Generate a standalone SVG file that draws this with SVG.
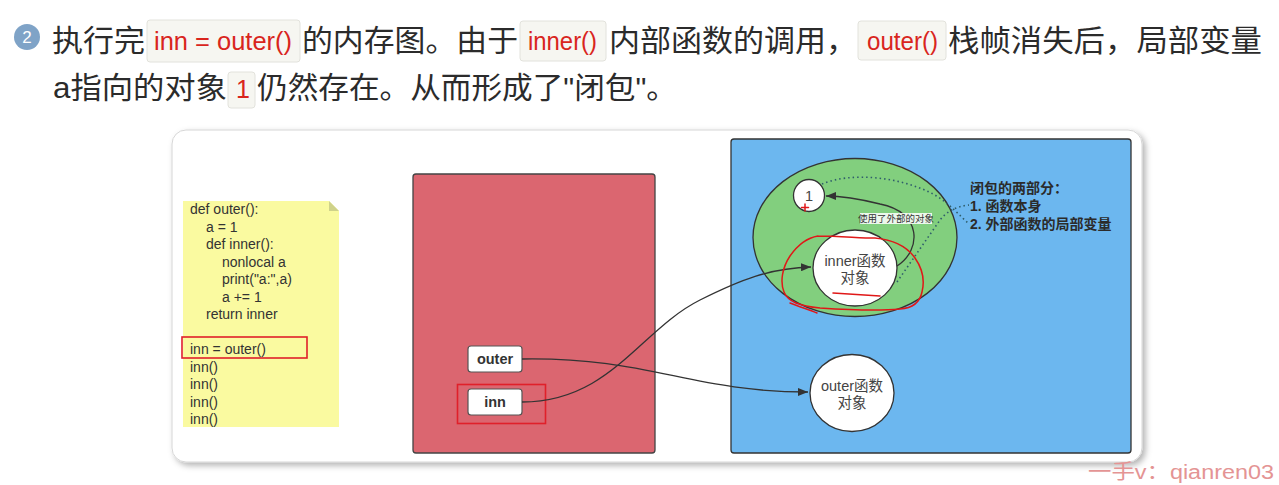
<svg xmlns="http://www.w3.org/2000/svg" width="1279" height="485" viewBox="0 0 1279 485">
<defs>
<style>
.h{font-family:"Liberation Sans","Noto Sans CJK SC",sans-serif;font-size:30px;fill:#2b2b2b}
.code{font-family:"Liberation Sans",sans-serif;font-size:25px;fill:#d9251d}
.cbox{fill:#f6f6f1;stroke:#e2e2dc;stroke-width:1}
.note{font-family:"Liberation Sans",sans-serif;font-size:14px;fill:#333}
.stk{fill:#fff;stroke:#555;stroke-width:1.2}
.stkt{font-family:"Liberation Sans",sans-serif;font-size:14.5px;font-weight:bold;fill:#333;text-anchor:middle}
.obj{fill:#fff;stroke:#333;stroke-width:1.3}
.objt{font-family:"Liberation Sans","Noto Sans CJK SC",sans-serif;font-size:14.5px;fill:#444;text-anchor:middle}
.conn{fill:none;stroke:#333;stroke-width:1.3}
.dot{fill:none;stroke:#2f5d6b;stroke-width:1.6;stroke-dasharray:1.5 3}
.lbl{font-family:"Liberation Sans","Noto Sans CJK SC",sans-serif;font-size:14px;font-weight:bold;fill:#2b2b2b}
.hl{fill:none;stroke:#e0202a;stroke-width:1.6}
.scrib{fill:none;stroke:#e01818;stroke-width:1.5;stroke-linecap:round;stroke-linejoin:round}
</style>
<marker id="ah" viewBox="0 0 10 8" refX="10" refY="4" markerWidth="10" markerHeight="8" markerUnits="userSpaceOnUse" orient="auto">
<path d="M0,0 L10,4 L0,8 z" fill="#333"/>
</marker>
<filter id="sh" x="-5%" y="-5%" width="110%" height="115%">
<feDropShadow dx="3" dy="3" stdDeviation="3" flood-color="#000" flood-opacity="0.3"/>
</filter>
</defs>
<rect width="1279" height="485" fill="#fff"/>

<g id="header">
<circle cx="27" cy="37" r="13" fill="#7fa3c7"/>
<text x="27" y="43" font-family="Liberation Sans,sans-serif" font-size="17" fill="#fff" text-anchor="middle">2</text>
<text class="h" x="52" y="51" textLength="93" lengthAdjust="spacingAndGlyphs">执行完</text>
<rect class="cbox" x="147" y="20" width="153" height="42" rx="3"/>
<text class="code" x="154" y="50" textLength="138" lengthAdjust="spacingAndGlyphs">inn = outer()</text>
<text class="h" x="302" y="51" textLength="216" lengthAdjust="spacingAndGlyphs">的内存图。由于</text>
<rect class="cbox" x="520" y="21" width="86" height="40" rx="3"/>
<text class="code" x="528" y="50" textLength="69" lengthAdjust="spacingAndGlyphs">inner()</text>
<text class="h" x="609" y="51" textLength="248" lengthAdjust="spacingAndGlyphs">内部函数的调用，</text>
<rect class="cbox" x="858" y="21" width="88" height="39" rx="3"/>
<text class="code" x="867" y="50" textLength="71" lengthAdjust="spacingAndGlyphs">outer()</text>
<text class="h" x="948" y="51" textLength="314" lengthAdjust="spacingAndGlyphs">栈帧消失后，局部变量</text>
<text class="h" x="53" y="98" textLength="174" lengthAdjust="spacingAndGlyphs">a指向的对象</text>
<rect class="cbox" x="228" y="72" width="27" height="36" rx="3"/>
<text class="code" x="236" y="98">1</text>
<text class="h" x="257" y="98" textLength="420" lengthAdjust="spacingAndGlyphs">仍然存在。从而形成了"闭包"。</text>
</g>

<rect id="card" x="172" y="130" width="970" height="332" rx="14" fill="#fff" stroke="#d6d6d6" filter="url(#sh)"/>

<g id="code-note">
<polygon points="183,201 329,201 339,211 339,427 183,427" fill="#fafaa0"/>
<polygon points="329,201 339,211 329,211" fill="#cfd28a"/>
<text class="note" x="190" y="214">def outer():</text>
<text class="note" x="206" y="231.5">a = 1</text>
<text class="note" x="206" y="249">def inner():</text>
<text class="note" x="222" y="266.5">nonlocal a</text>
<text class="note" x="222" y="284">print("a:",a)</text>
<text class="note" x="222" y="301.5">a += 1</text>
<text class="note" x="206" y="319">return inner</text>
<text class="note" x="190" y="354">inn = outer()</text>
<text class="note" x="190" y="371.5">inn()</text>
<text class="note" x="190" y="389">inn()</text>
<text class="note" x="190" y="406.5">inn()</text>
<text class="note" x="190" y="424">inn()</text>
<rect class="hl" x="182" y="337" width="125" height="21"/>
</g>

<g id="stack-frame">
<rect x="413" y="174" width="242" height="279" rx="3" fill="#db6670" stroke="#444" stroke-width="1.3"/>
</g>

<g id="heap">
<rect x="731" y="139" width="400" height="314" rx="3" fill="#6cb7ef" stroke="#333" stroke-width="1.3"/>
</g>

<g id="closure">
<ellipse cx="855" cy="237.5" rx="102" ry="79" fill="#82cf7e" stroke="#333" stroke-width="1.3"/>
</g>

<g id="var-outer">
<rect class="stk" x="468" y="346" width="54" height="26" rx="3"/>
<text class="stkt" x="495" y="364">outer</text>
</g>
<g id="var-inn">
<rect class="stk" x="468" y="389" width="54" height="26" rx="3"/>
<text class="stkt" x="495" y="407">inn</text>
<rect class="hl" x="457.5" y="384.5" width="88" height="39"/>
</g>

<g id="obj-1">
<ellipse class="obj" cx="809" cy="195.5" rx="15.5" ry="16"/>
<text class="objt" x="809" y="201">1</text>
</g>
<g id="obj-inner">
<ellipse class="obj" cx="855" cy="268" rx="42" ry="38"/>
<text class="objt" x="855" y="266">inner函数</text>
<text class="objt" x="855" y="283">对象</text>
</g>
<g id="obj-outer">
<ellipse class="obj" cx="852" cy="393" rx="42" ry="38.5"/>
<text class="objt" x="852" y="391">outer函数</text>
<text class="objt" x="852" y="408">对象</text>
</g>

<g id="connectors">
<path class="conn" d="M522,359 C650,357 690,392 808,392" marker-end="url(#ah)"/>
<path class="conn" d="M522,402 C610,402 640,330 700,300 C740,280 770,268 811,267" marker-end="url(#ah)"/>
<path class="conn" d="M897,266 C922,250 922,212 880,204 C860,199 845,196 826,196" marker-end="url(#ah)"/>
<rect x="860" y="213" width="72" height="11" fill="#fff" fill-opacity="0.85"/>
<text x="896" y="222" font-family="Noto Sans CJK SC,sans-serif" font-size="9.5" fill="#333" text-anchor="middle">使用了外部的对象</text>
<path class="dot" d="M822,184 C850,172 900,176 935,195 C950,204 960,216 969,224"/>
<path class="dot" d="M897,282 L940,220 Q950,207 969,205"/>
</g>

<g id="legend">
<text class="lbl" x="970" y="193">闭包的两部分：</text>
<text class="lbl" x="970" y="211">1. 函数本身</text>
<text class="lbl" x="970" y="229">2. 外部函数的局部变量</text>
</g>

<g id="annotations">
<path class="scrib" d="M818,236 C840,236 860,238 875,238 C895,240 908,248 915,258 C922,268 925,280 922,292 C920,302 914,308 900,309 C880,311 850,310 820,308 C800,306 788,302 784,292 C780,282 782,268 790,256 C797,246 806,238 818,236"/>
<path class="scrib" d="M790,303 C800,307 810,310 817,313"/>
<path class="scrib" d="M833,293 C850,294 865,295 880,296"/>
<path class="scrib" d="M805,204 L805,211 M801.5,207.5 L808.5,207.5"/>
</g>

<text id="watermark" x="1088" y="479" font-family="Liberation Sans,Noto Sans CJK SC,sans-serif" font-size="20" fill="#e49494" textLength="186" lengthAdjust="spacingAndGlyphs">一手v：qianren03</text>
</svg>
